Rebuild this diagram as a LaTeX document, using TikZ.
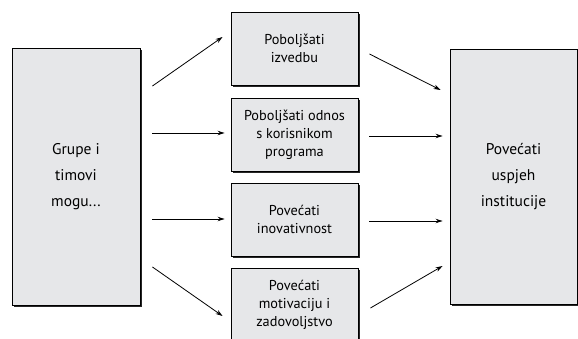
\documentclass[tikz,border=0pt]{standalone}
\usepackage{fontspec}
\setmainfont{PT Sans}
\usetikzlibrary{arrows.meta,shadows,calc}
\definecolor{boxgray}{HTML}{E6E7E9}
\begin{document}
\begin{tikzpicture}[x=1pt,y=-1pt,
  box/.style={draw=black, line width=0.9pt, fill=boxgray, inner sep=0pt, align=center,
    drop shadow={shadow xshift=2.2pt, shadow yshift=-2.2pt, fill=black!85, opacity=1}},
  bigbox/.style={box, font=\fontsize{15.5}{26}\selectfont},
  smallbox/.style={box, minimum width=127pt, minimum height=73pt, font=\fontsize{14.3}{18}\selectfont},
  arr/.style={line width=0.8pt, -{Stealth[length=7pt,width=4.5pt]}}]
\useasboundingbox (0,0) rectangle (578,339);
\clip (0,0) rectangle (578,339);
\node[bigbox, minimum width=128pt, minimum height=257pt] (L) at (76,176.5) {Grupe i\\timovi\\mogu...};
\node[bigbox, minimum width=127pt, minimum height=255pt] (R) at (513.5,176.5) {Povećati\\uspjeh\\institucije};
\node[smallbox] (M1) at (294.5,48.5) {Poboljšati\\izvedbu};
\node[smallbox] (M2) at (294.5,134.5) {Poboljšati odnos\\s korisnikom\\programa};
\node[smallbox] (M3) at (294.5,219.5) {Povećati\\inovativnost};
\node[smallbox] (M4) at (294.5,304.5) {Povećati\\motivaciju i\\zadovoljstvo};
\draw[arr] ($(L.east)+(12,-90.5)$) -- ($(M1.west)+(-8,-11.5)$);
\draw[arr] ($(L.east)+(12,-43.5)$) -- ($(M2.west)+(-6,-1.5)$);
\draw[arr] ($(L.east)+(12,42.5)$) -- ($(M3.west)+(-6,-0.5)$);
\draw[arr] ($(L.east)+(12,90.5)$) -- ($(M4.west)+(-8,11.5)$);
\draw[arr] ($(M1.east)+(11,5.5)$) -- ($(R.west)+(-9,-86.5)$);
\draw[arr] ($(M2.east)+(11,1.5)$) -- ($(R.west)+(-7,-40.5)$);
\draw[arr] ($(M3.east)+(11,1.5)$) -- ($(R.west)+(-7,44.5)$);
\draw[arr] ($(M4.east)+(12,3.5)$) -- ($(R.west)+(-7,89.5)$);
\end{tikzpicture}
\end{document}
